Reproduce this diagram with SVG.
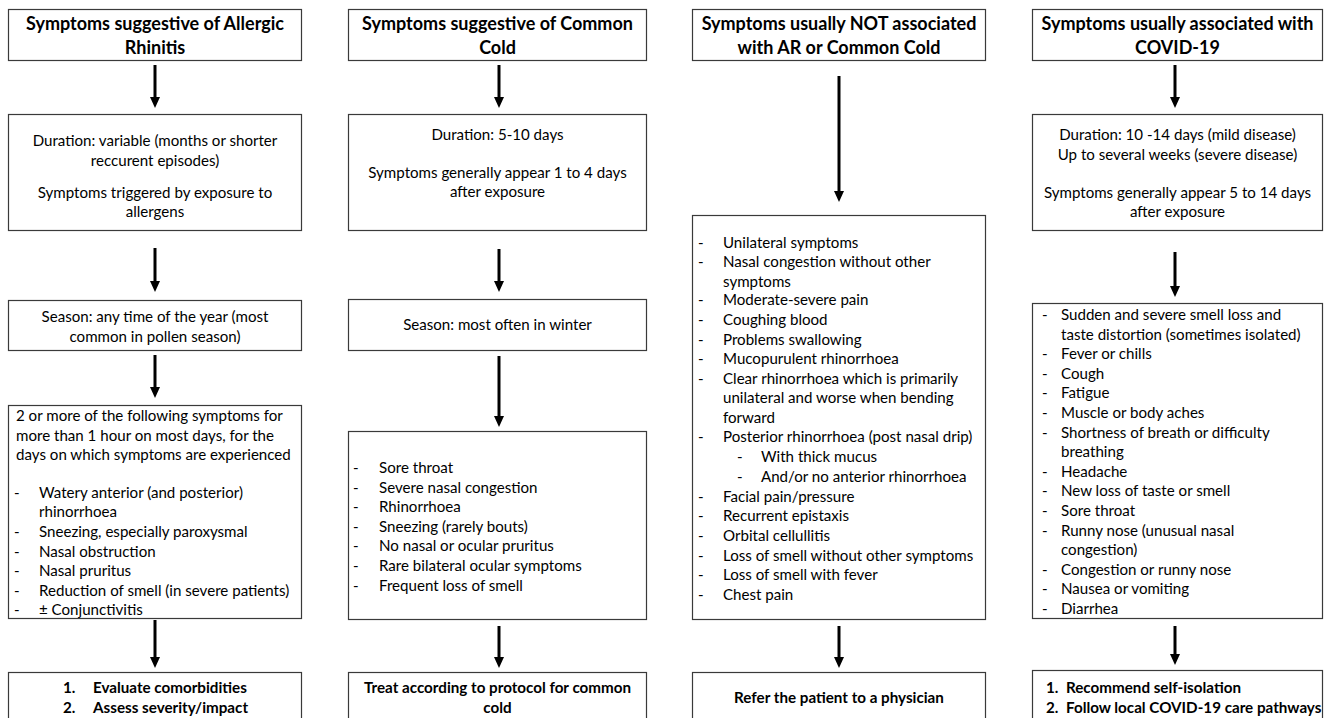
<svg xmlns="http://www.w3.org/2000/svg" width="1325" height="718" viewBox="0 0 1325 718">
<style>
.bx{fill:#fff;stroke:#3a3a3a;stroke-width:1.2}
.t{font-family:Lato,"Liberation Sans",sans-serif;font-size:15.1px;fill:#000}
.c{text-anchor:middle}
.h{font-family:Lato,"Liberation Sans",sans-serif;font-size:18px;font-weight:bold;fill:#000;text-anchor:middle}
.b{font-family:Lato,"Liberation Sans",sans-serif;font-size:15.2px;font-weight:bold;fill:#000}
.ar{stroke:#000;stroke-width:3;fill:none}
</style>
<rect width="1325" height="718" fill="#fff"/>

<g id="connectors">
<path class="ar" d="M155,65 V98"/><path d="M150,97 h10 l-5,11 z"/>
<path class="ar" d="M155,248 V282"/><path d="M150,281 h10 l-5,11 z"/>
<path class="ar" d="M155,355 V388"/><path d="M150,387 h10 l-5,11 z"/>
<path class="ar" d="M155,620 V658"/><path d="M150,657 h10 l-5,11 z"/>

<path class="ar" d="M499,65 V98"/><path d="M494,97 h10 l-5,11 z"/>
<path class="ar" d="M499,249 V282"/><path d="M494,281 h10 l-5,11 z"/>
<path class="ar" d="M499,356 V417"/><path d="M494,416 h10 l-5,11 z"/>
<path class="ar" d="M499,626 V658"/><path d="M494,657 h10 l-5,11 z"/>

<path class="ar" d="M839,76 V192"/><path d="M834,191 h10 l-5,11 z"/>
<path class="ar" d="M839,626 V658"/><path d="M834,657 h10 l-5,11 z"/>

<path class="ar" d="M1175,65 V98"/><path d="M1170,97 h10 l-5,11 z"/>
<path class="ar" d="M1175,252 V287"/><path d="M1170,286 h10 l-5,11 z"/>
<path class="ar" d="M1175,626 V655"/><path d="M1170,654 h10 l-5,11 z"/>
</g>

<!-- Column 1 -->
<g id="ar-head">
<rect class="bx" x="8.5" y="9.5" width="293" height="51"/>
<text class="h" x="155" y="29.5">Symptoms suggestive of Allergic</text>
<text class="h" x="155" y="53.5">Rhinitis</text>
</g>
<g id="ar-duration">
<rect class="bx" x="8.5" y="114.5" width="293" height="116"/>
<text class="t c" x="155" y="146">Duration: variable (months or shorter</text>
<text class="t c" x="155" y="165.5">reccurent episodes)</text>
<text class="t c" x="155" y="197.5">Symptoms triggered by exposure to</text>
<text class="t c" x="155" y="216.5">allergens</text>
</g>
<g id="ar-season">
<rect class="bx" x="8.5" y="300.5" width="293" height="50"/>
<text class="t c" x="155" y="322">Season: any time of the year (most</text>
<text class="t c" x="155" y="342">common in pollen season)</text>
</g>
<g id="ar-symptoms">
<rect class="bx" x="8.5" y="405.5" width="293" height="213"/>
<text class="t" x="16" y="421">2 or more of the following symptoms for</text>
<text class="t" x="16" y="440.5">more than 1 hour on most days, for the</text>
<text class="t" x="16" y="460">days on which symptoms are experienced</text>
<text class="t" x="14" y="498">-</text><text class="t" x="39" y="498">Watery anterior (and posterior)</text>
<text class="t" x="39" y="517">rhinorrhoea</text>
<text class="t" x="14" y="537">-</text><text class="t" x="39" y="537">Sneezing, especially paroxysmal</text>
<text class="t" x="14" y="557">-</text><text class="t" x="39" y="557">Nasal obstruction</text>
<text class="t" x="14" y="576">-</text><text class="t" x="39" y="576">Nasal pruritus</text>
<text class="t" x="14" y="596">-</text><text class="t" x="39" y="596">Reduction of smell (in severe patients)</text>
<text class="t" x="14" y="615">-</text><text class="t" x="39" y="615">± Conjunctivitis</text>
</g>
<g id="ar-action">
<rect class="bx" x="8.5" y="672.5" width="293" height="60"/>
<text class="b" x="63" y="693">1.</text><text class="b" x="93" y="693">Evaluate comorbidities</text>
<text class="b" x="63" y="713">2.</text><text class="b" x="93" y="713">Assess severity/impact</text>
</g>

<!-- Column 2 -->
<g id="cc-head">
<rect class="bx" x="348.5" y="9.5" width="298" height="51"/>
<text class="h" x="497.5" y="29.5">Symptoms suggestive of Common</text>
<text class="h" x="497.5" y="53.5">Cold</text>
</g>
<g id="cc-duration">
<rect class="bx" x="348.5" y="114.5" width="298" height="116"/>
<text class="t c" x="497.5" y="140">Duration: 5-10 days</text>
<text class="t c" x="497.5" y="178">Symptoms generally appear 1 to 4 days</text>
<text class="t c" x="497.5" y="197">after exposure</text>
</g>
<g id="cc-season">
<rect class="bx" x="348.5" y="299.5" width="298" height="51"/>
<text class="t c" x="497.5" y="330">Season: most often in winter</text>
</g>
<g id="cc-symptoms">
<rect class="bx" x="348.5" y="431.5" width="298" height="188"/>
<text class="t" x="353" y="473">-</text><text class="t" x="379" y="473">Sore throat</text>
<text class="t" x="353" y="492.5">-</text><text class="t" x="379" y="492.5">Severe nasal congestion</text>
<text class="t" x="353" y="512">-</text><text class="t" x="379" y="512">Rhinorrhoea</text>
<text class="t" x="353" y="531.5">-</text><text class="t" x="379" y="531.5">Sneezing (rarely bouts)</text>
<text class="t" x="353" y="551">-</text><text class="t" x="379" y="551">No nasal or ocular pruritus</text>
<text class="t" x="353" y="571">-</text><text class="t" x="379" y="571">Rare bilateral ocular symptoms</text>
<text class="t" x="353" y="590.5">-</text><text class="t" x="379" y="590.5">Frequent loss of smell</text>
</g>
<g id="cc-action">
<rect class="bx" x="348.5" y="672.5" width="298" height="60"/>
<text class="b c" x="497.5" y="693">Treat according to protocol for common</text>
<text class="b c" x="497.5" y="713">cold</text>
</g>

<!-- Column 3 -->
<g id="not-head">
<rect class="bx" x="692.5" y="9.5" width="293" height="51"/>
<text class="h" x="839" y="29.5">Symptoms usually NOT associated</text>
<text class="h" x="839" y="53.5">with AR or Common Cold</text>
</g>
<g id="not-symptoms">
<rect class="bx" x="692.5" y="215.5" width="293" height="404"/>
<text class="t" x="698" y="248">-</text><text class="t" x="723" y="248">Unilateral symptoms</text>
<text class="t" x="698" y="267">-</text><text class="t" x="723" y="267">Nasal congestion without other</text>
<text class="t" x="723" y="287">symptoms</text>
<text class="t" x="698" y="305">-</text><text class="t" x="723" y="305">Moderate-severe pain</text>
<text class="t" x="698" y="325">-</text><text class="t" x="723" y="325">Coughing blood</text>
<text class="t" x="698" y="345">-</text><text class="t" x="723" y="345">Problems swallowing</text>
<text class="t" x="698" y="364">-</text><text class="t" x="723" y="364">Mucopurulent rhinorrhoea</text>
<text class="t" x="698" y="383.5">-</text><text class="t" x="723" y="383.5">Clear rhinorrhoea which is primarily</text>
<text class="t" x="723" y="403">unilateral and worse when bending</text>
<text class="t" x="723" y="423">forward</text>
<text class="t" x="698" y="442">-</text><text class="t" x="723" y="442">Posterior rhinorrhoea (post nasal drip)</text>
<text class="t" x="737" y="462">-</text><text class="t" x="761" y="462">With thick mucus</text>
<text class="t" x="737" y="482">-</text><text class="t" x="761" y="482">And/or no anterior rhinorrhoea</text>
<text class="t" x="698" y="502">-</text><text class="t" x="723" y="502">Facial pain/pressure</text>
<text class="t" x="698" y="521">-</text><text class="t" x="723" y="521">Recurrent epistaxis</text>
<text class="t" x="698" y="541">-</text><text class="t" x="723" y="541">Orbital cellullitis</text>
<text class="t" x="698" y="561">-</text><text class="t" x="723" y="561">Loss of smell without other symptoms</text>
<text class="t" x="698" y="580">-</text><text class="t" x="723" y="580">Loss of smell with fever</text>
<text class="t" x="698" y="600">-</text><text class="t" x="723" y="600">Chest pain</text>
</g>
<g id="not-action">
<rect class="bx" x="692.5" y="672.5" width="293" height="60"/>
<text class="b c" x="839" y="703">Refer the patient to a physician</text>
</g>

<!-- Column 4 -->
<g id="covid-head">
<rect class="bx" x="1032.5" y="9.5" width="290" height="51"/>
<text class="h" x="1177.5" y="29.5">Symptoms usually associated with</text>
<text class="h" x="1177.5" y="53.5">COVID-19</text>
</g>
<g id="covid-duration">
<rect class="bx" x="1032.5" y="114.5" width="290" height="116"/>
<text class="t c" x="1177.5" y="140">Duration: 10 -14 days (mild disease)</text>
<text class="t c" x="1177.5" y="160">Up to several weeks (severe disease)</text>
<text class="t c" x="1177.5" y="198">Symptoms generally appear 5 to 14 days</text>
<text class="t c" x="1177.5" y="217">after exposure</text>
</g>
<g id="covid-symptoms">
<rect class="bx" x="1032.5" y="303.5" width="290" height="315"/>
<text class="t" x="1042" y="320">-</text><text class="t" x="1061" y="320">Sudden and severe smell loss and</text>
<text class="t" x="1061" y="340">taste distortion (sometimes isolated)</text>
<text class="t" x="1042" y="359">-</text><text class="t" x="1061" y="359">Fever or chills</text>
<text class="t" x="1042" y="379">-</text><text class="t" x="1061" y="379">Cough</text>
<text class="t" x="1042" y="398">-</text><text class="t" x="1061" y="398">Fatigue</text>
<text class="t" x="1042" y="418">-</text><text class="t" x="1061" y="418">Muscle or body aches</text>
<text class="t" x="1042" y="438">-</text><text class="t" x="1061" y="438">Shortness of breath or difficulty</text>
<text class="t" x="1061" y="457">breathing</text>
<text class="t" x="1042" y="477">-</text><text class="t" x="1061" y="477">Headache</text>
<text class="t" x="1042" y="496">-</text><text class="t" x="1061" y="496">New loss of taste or smell</text>
<text class="t" x="1042" y="516">-</text><text class="t" x="1061" y="516">Sore throat</text>
<text class="t" x="1042" y="536">-</text><text class="t" x="1061" y="536">Runny nose (unusual nasal</text>
<text class="t" x="1061" y="555">congestion)</text>
<text class="t" x="1042" y="575">-</text><text class="t" x="1061" y="575">Congestion or runny nose</text>
<text class="t" x="1042" y="594">-</text><text class="t" x="1061" y="594">Nausea or vomiting</text>
<text class="t" x="1042" y="614">-</text><text class="t" x="1061" y="614">Diarrhea</text>
</g>
<g id="covid-action">
<rect class="bx" x="1032.5" y="670.5" width="290" height="60"/>
<text class="b" x="1046" y="693">1.</text><text class="b" x="1066" y="693">Recommend self-isolation</text>
<text class="b" x="1046" y="713">2.</text><text class="b" x="1066" y="713">Follow local COVID-19 care pathways</text>
</g>
</svg>
